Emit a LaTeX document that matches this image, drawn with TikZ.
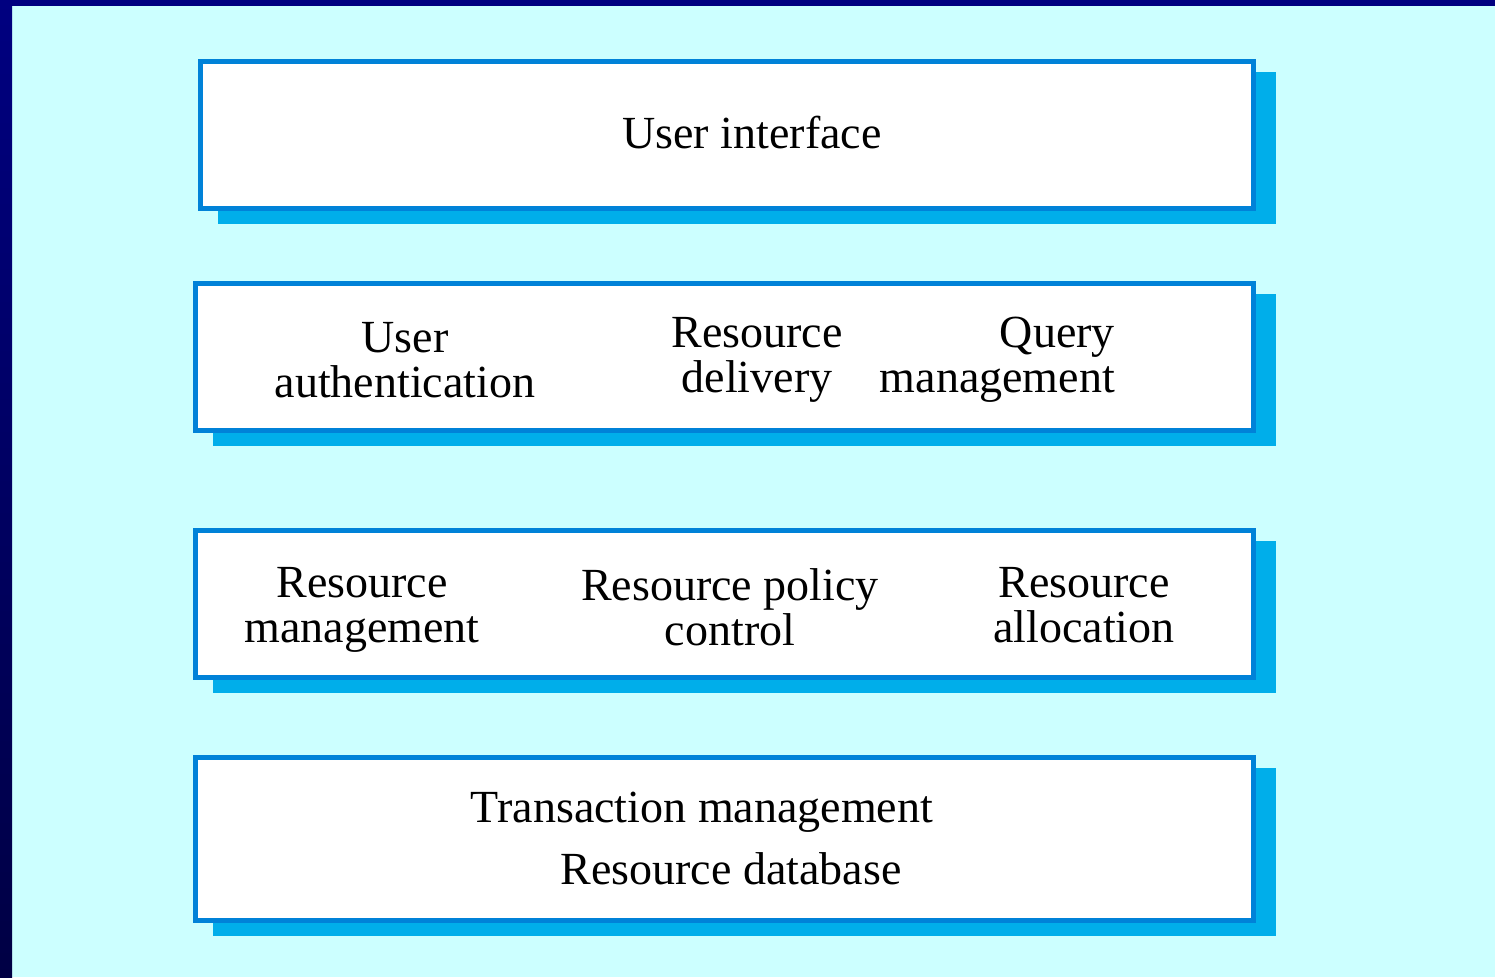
\documentclass[tikz,border=0pt]{standalone}
\usepackage{fontspec}
\setmainfont{Liberation Serif}
\usepackage{xcolor}
\usepackage{tikz}
\usetikzlibrary{shadows}
\definecolor{slidecyan}{HTML}{CCFFFF}
\definecolor{slidenavy}{HTML}{000080}
\definecolor{slidedark}{HTML}{000044}
\definecolor{layerline}{HTML}{0082D8}
\definecolor{layershadow}{HTML}{00AEEA}
\tikzset{
    layer/.style = {draw=layerline, line width=5pt, fill=white, inner sep=0pt, minimum width=1058pt, minimum height=147pt,
        drop shadow={shadow xshift=20pt, shadow yshift=-13pt, fill=layershadow, draw=layershadow, line width=5pt, opacity=1}},
    tlabel/.style = {align=center, inner sep=0pt, anchor=base, font=\fontsize{46}{45}\selectfont}
}

\begin{document}
\begin{tikzpicture}[x=1pt, y=-1pt]

    % slide background
    \fill[slidecyan] (0,0) rectangle (1495,977);
    \shade[top color=slidenavy, bottom color=slidedark] (0,0) rectangle (12,977);
    \fill[slidenavy] (0,0) rectangle (1495,6);

    % layers
    \node [layer, minimum width=1053pt] (ui) at (727,135) {};
    \node [layer] (services) at (724.5,357) {};
    \node [layer] (resmgmt) at (724.5,604) {};
    \node [layer, minimum height=163pt] (db) at (724.5,839) {};

    % labels (base = last line)
    \node [tlabel] (uitext) at (752,148) {User interface};

    \node [tlabel] (auth) at (405,397) {User\\authentication};
    \node [tlabel] (delivery) at (757,392) {Resource\\delivery};
    \node [tlabel, align=right, anchor=base east] (query) at (1115,392) {Query\\management};

    \node [tlabel] (manage) at (362,642) {Resource\\management};
    \node [tlabel] (policy) at (730,645) {Resource policy\\control};
    \node [tlabel] (alloc) at (1084,642) {Resource\\allocation};

    \node [tlabel] (trans) at (702,822) {Transaction management};
    \node [tlabel] (dbtext) at (731,884) {Resource database};

\end{tikzpicture}
\end{document}
